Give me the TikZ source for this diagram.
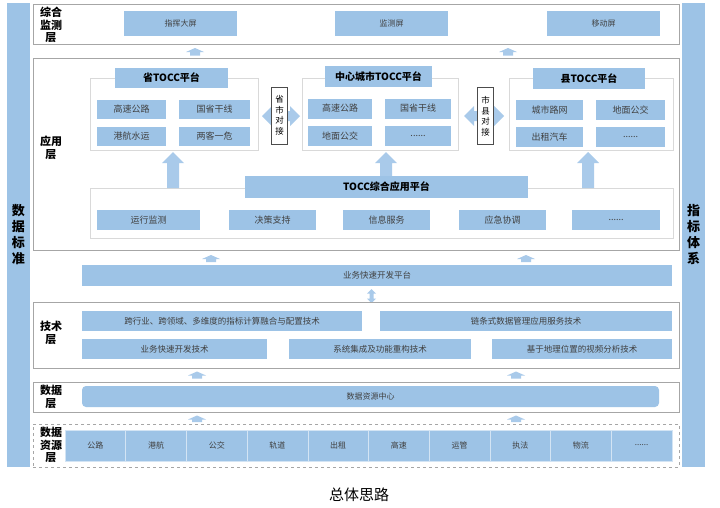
\documentclass[tikz,border=0pt]{standalone}
\usepackage{fontspec}
\setmainfont{Noto Sans CJK SC}
\definecolor{barblue}{HTML}{9DC3E6}
\definecolor{arrowblue}{HTML}{A9CAEA}
\definecolor{layergray}{HTML}{A6A6A6}
\definecolor{groupgray}{HTML}{D9D9D9}
\definecolor{celltext}{HTML}{404040}
\tikzset{
  layerbox/.style={draw=layergray, line width=0.9pt, fill=white, minimum width=646pt, inner sep=0pt},
  groupbox/.style={draw=groupgray, line width=0.7pt, fill=white, inner sep=0pt},
  cell/.style={fill=barblue, inner sep=0pt, text=celltext, font=\fontsize{9}{10}\selectfont},
  smallcell/.style={cell, font=\fontsize{8}{9}\selectfont},
  headbox/.style={fill=barblue, inner sep=0pt, font=\fontsize{10}{11}\selectfont\bfseries},
  layerlbl/.style={font=\fontsize{11}{12.5}\selectfont\bfseries, align=center},
  sidebar/.style={fill=barblue, minimum width=23pt, minimum height=464pt, inner sep=0pt,
    font=\fontsize{13}{16}\selectfont\bfseries, align=center},
  linkbox/.style={draw=black!70, fill=white, line width=0.6pt, minimum width=16pt, minimum height=57pt,
    inner sep=0pt, align=center, font=\fontsize{8.5}{10.5}\selectfont}
}
% block arrows: centre x, tip y, foot y, half shaft, half head, head length
\newcommand{\blockup}[6]{%
  \fill[arrowblue] ({#1-#4},#3) -- ({#1-#4},{#2+#6}) -- ({#1-#5},{#2+#6}) -- (#1,#2)
    -- ({#1+#5},{#2+#6}) -- ({#1+#4},{#2+#6}) -- ({#1+#4},#3) -- cycle;}
% left x, right x, centre y, half shaft, half head, head length
\newcommand{\blockleftright}[6]{%
  \fill[arrowblue] (#1,#3) -- ({#1+#6},{#3-#5}) -- ({#1+#6},{#3-#4}) -- ({#2-#6},{#3-#4})
    -- ({#2-#6},{#3-#5}) -- (#2,#3) -- ({#2-#6},{#3+#5}) -- ({#2-#6},{#3+#4})
    -- ({#1+#6},{#3+#4}) -- ({#1+#6},{#3+#5}) -- cycle;}
% centre x, top y, bottom y, half shaft, half head, head length
\newcommand{\blockupdown}[6]{%
  \fill[arrowblue] (#1,#2) -- ({#1+#5},{#2+#6}) -- ({#1+#4},{#2+#6}) -- ({#1+#4},{#3-#6})
    -- ({#1+#5},{#3-#6}) -- (#1,#3) -- ({#1-#5},{#3-#6}) -- ({#1-#4},{#3-#6})
    -- ({#1-#4},{#2+#6}) -- ({#1-#5},{#2+#6}) -- cycle;}
\begin{document}
\begin{tikzpicture}[x=1pt, y=-1pt]
  \useasboundingbox (0,0) rectangle (720,507);
  \fill[white] (0,0) rectangle (720,507);
  % Side bars
  \node[sidebar] (std) at (18.5,235) {数\\据\\标\\准};
  \node[sidebar] (idx) at (693.5,235) {指\\标\\体\\系};
  % Monitoring layer
  \node[layerbox, minimum height=40pt] (mon) at (356,24) {};
  \node[layerlbl] (monlbl) at (51,25) {综合\\监测\\层};
  \node[smallcell, minimum width=113pt, minimum height=25pt] (scr1) at (180.5,23.5) {指挥大屏};
  \node[smallcell, minimum width=113pt, minimum height=25pt] (scr2) at (391.5,23.5) {监测屏};
  \node[smallcell, minimum width=113pt, minimum height=25pt] (scr3) at (603.5,23.5) {移动屏};
  \blockup{195}{48}{55.5}{5}{9}{4}
  \blockup{508}{48}{55.5}{5}{9}{4}
  % Application layer
  \node[layerbox, minimum height=192pt] (app) at (356,154) {};
  \node[layerlbl] (applbl) at (51,148) {应用\\层};
  % province platform
  \node[groupbox, minimum width=168pt, minimum height=72pt] (prov) at (174,114) {};
  \node[headbox, minimum width=113pt, minimum height=20pt] (provhd) at (171.5,78) {省TOCC平台};
  \node[cell, minimum width=69pt, minimum height=19pt] (prov1) at (131.5,109.5) {高速公路};
  \node[cell, minimum width=71pt, minimum height=19pt] (prov2) at (214.5,109.5) {国省干线};
  \node[cell, minimum width=69pt, minimum height=19pt] (prov3) at (131.5,136.5) {港航水运};
  \node[cell, minimum width=71pt, minimum height=19pt] (prov4) at (214.5,136.5) {两客一危};
  % province-city link
  \blockleftright{262}{300}{116}{5}{10}{10}
  \node[linkbox] (link1) at (279.5,115.5) {省\\市\\对\\接};
  % central city platform
  \node[groupbox, minimum width=156pt, minimum height=72pt] (city) at (380,114) {};
  \node[headbox, minimum width=107pt, minimum height=21pt] (cityhd) at (378.5,76.5) {中心城市TOCC平台};
  \node[cell, minimum width=64pt, minimum height=20pt] (city1) at (340,108.5) {高速公路};
  \node[cell, minimum width=66pt, minimum height=20pt] (city2) at (418,108.5) {国省干线};
  \node[cell, minimum width=64pt, minimum height=20pt] (city3) at (340,136) {地面公交};
  \node[cell, minimum width=66pt, minimum height=20pt] (city4) at (418,136) {......};
  % city-county link
  \blockleftright{464}{504}{116}{5}{10}{10}
  \node[linkbox] (link2) at (485.5,116) {市\\县\\对\\接};
  % county platform
  \node[groupbox, minimum width=164pt, minimum height=72pt] (cnty) at (591,114) {};
  \node[headbox, minimum width=112pt, minimum height=21pt] (cntyhd) at (589,78.5) {县TOCC平台};
  \node[cell, minimum width=67pt, minimum height=20pt] (cnty1) at (549.5,110) {城市路网};
  \node[cell, minimum width=69pt, minimum height=20pt] (cnty2) at (630.5,110) {地面公交};
  \node[cell, minimum width=67pt, minimum height=20pt] (cnty3) at (549.5,137) {出租汽车};
  \node[cell, minimum width=69pt, minimum height=20pt] (cnty4) at (630.5,137) {......};
  % TOCC integrated platform
  \node[groupbox, minimum width=583pt, minimum height=50pt] (tocc) at (381.5,213) {};
  \blockup{173}{152}{188}{6}{11}{11}
  \blockup{386}{152}{176}{6}{11}{11}
  \blockup{588}{152}{188}{6}{11}{11}
  \node[headbox, minimum width=283pt, minimum height=22pt] (toccd) at (386.5,187) {TOCC综合应用平台};
  \node[cell, minimum width=103pt, minimum height=20pt] (tocc1) at (148.5,220) {运行监测};
  \node[cell, minimum width=87pt, minimum height=20pt] (tocc2) at (272.5,220) {决策支持};
  \node[cell, minimum width=87pt, minimum height=20pt] (tocc3) at (386.5,220) {信息服务};
  \node[cell, minimum width=87pt, minimum height=20pt] (tocc4) at (502.5,220) {应急协调};
  \node[cell, minimum width=88pt, minimum height=20pt] (tocc5) at (616,220) {......};
  % Development platform
  \blockup{211}{255}{262}{5}{9}{4}
  \blockup{526}{255}{262}{5}{9}{4}
  \node[cell, font=\fontsize{8.5}{9}\selectfont, minimum width=590pt, minimum height=21pt] (dev) at (377,275.5) {业务快速开发平台};
  \blockupdown{371.5}{289}{303}{2}{4.5}{4.5}
  % Technology layer
  \node[layerbox, minimum height=66pt] (tech) at (356,335) {};
  \node[layerlbl] (techlbl) at (51,333) {技术\\层};
  \node[cell, font=\fontsize{8.5}{9}\selectfont, minimum width=280pt, minimum height=20pt] (tech1) at (222,321) {跨行业、跨领域、多维度的指标计算融合与配置技术};
  \node[cell, font=\fontsize{8.5}{9}\selectfont, minimum width=292pt, minimum height=20pt] (tech2) at (526,321) {链条式数据管理应用服务技术};
  \node[cell, font=\fontsize{8.5}{9}\selectfont, minimum width=185pt, minimum height=20pt] (tech3) at (174.5,349) {业务快速开发技术};
  \node[cell, font=\fontsize{8.5}{9}\selectfont, minimum width=182pt, minimum height=20pt] (tech4) at (380,349) {系统集成及功能重构技术};
  \node[cell, font=\fontsize{8.5}{9}\selectfont, minimum width=180pt, minimum height=20pt] (tech5) at (582,349) {基于地理位置的视频分析技术};
  \blockup{197}{371.5}{378.5}{5}{9}{4}
  \blockup{516}{371.5}{378.5}{5}{9}{4}
  % Data layer
  \node[layerbox, minimum height=30pt] (data) at (356,397) {};
  \node[layerlbl] (datalbl) at (51,397) {数据\\层};
  \node[smallcell, rounded corners=4pt, minimum width=577pt, minimum height=21pt] (center) at (370.5,396.5) {数据资源中心};
  \blockup{197}{415.5}{422}{5}{9}{4}
  \blockup{516}{415.5}{422}{5}{9}{4}
  % Data source layer
  \node[layerbox, dashed, minimum height=43pt] (src) at (356,445.5) {};
  \node[layerlbl] (srclbl) at (51,445) {数据\\资源\\层};
  \node[smallcell, draw=white!55!barblue, line width=0.6pt, minimum width=60.7pt, minimum height=31pt] (src1) at (95.35,445.5) {公路};
  \node[smallcell, draw=white!55!barblue, line width=0.6pt, minimum width=60.7pt, minimum height=31pt] (src2) at (156.05,445.5) {港航};
  \node[smallcell, draw=white!55!barblue, line width=0.6pt, minimum width=60.7pt, minimum height=31pt] (src3) at (216.75,445.5) {公交};
  \node[smallcell, draw=white!55!barblue, line width=0.6pt, minimum width=60.7pt, minimum height=31pt] (src4) at (277.45,445.5) {轨道};
  \node[smallcell, draw=white!55!barblue, line width=0.6pt, minimum width=60.7pt, minimum height=31pt] (src5) at (338.15,445.5) {出租};
  \node[smallcell, draw=white!55!barblue, line width=0.6pt, minimum width=60.7pt, minimum height=31pt] (src6) at (398.85,445.5) {高速};
  \node[smallcell, draw=white!55!barblue, line width=0.6pt, minimum width=60.7pt, minimum height=31pt] (src7) at (459.55,445.5) {运管};
  \node[smallcell, draw=white!55!barblue, line width=0.6pt, minimum width=60.7pt, minimum height=31pt] (src8) at (520.25,445.5) {执法};
  \node[smallcell, draw=white!55!barblue, line width=0.6pt, minimum width=60.7pt, minimum height=31pt] (src9) at (580.95,445.5) {物流};
  \node[smallcell, draw=white!55!barblue, line width=0.6pt, minimum width=60.7pt, minimum height=31pt] (src10) at (641.65,445.5) {......};
  % Caption
  \node[font=\fontsize{15}{16}\selectfont] (caption) at (359,495) {总体思路};
\end{tikzpicture}
\end{document}
